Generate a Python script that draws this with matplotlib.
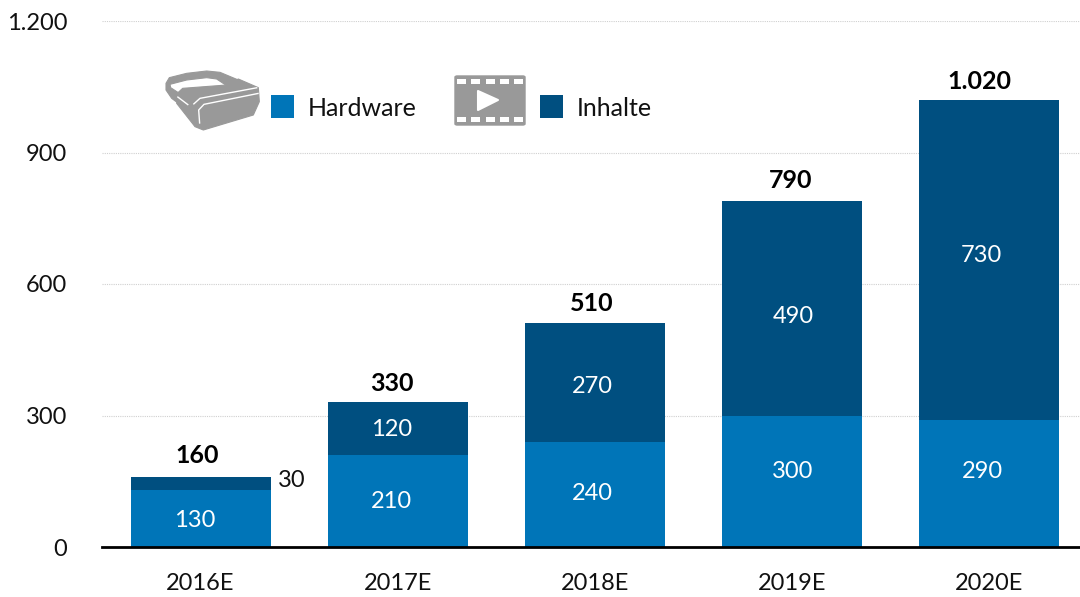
import matplotlib
matplotlib.use('Agg')
import matplotlib.pyplot as plt
from matplotlib.patches import Polygon, Rectangle, FancyBboxPatch

years = ['2016E', '2017E', '2018E', '2019E', '2020E']
hardware = [130, 210, 240, 300, 290]
inhalte = [30, 120, 270, 490, 730]
totals = [160, 330, 510, 790, 1020]
total_labels = ['160', '330', '510', '790', '1.020']
y_ticks = [0, 300, 600, 900, 1200]
y_labels = ['0', '300', '600', '900', '1.200']

W, H = 1080, 597
BLUE = '#0075b8'
DARK = '#004f80'
GREY = '#999999'
INK = '#111111'

# kleine Verschiebungen der Beschriftungen, in Pixeln
hw_shift = [(-6, -2), (-6, -1), (-3, 1), (0, 10), (-7, 12)]
in_shift = [(0, 0), (-6, -1), (-3, -4), (1, -8), (-8, 4)]
tot_shift = [(-3, 2), (-6, -1), (-3, 1), (-1, 1), (-10, -1)]

plt.rcParams['font.family'] = ['Lato', 'DejaVu Sans']

fig = plt.figure(figsize=(W / 100, H / 100), dpi=100)
ax = fig.add_axes([102 / W, (H - 547) / H, 978 / W, 526 / H])
ax.set_xlim(-0.5, 4.46)
ax.set_ylim(0, 1200)

ax.bar(range(5), hardware, width=0.71, color=BLUE, zorder=3)
ax.bar(range(5), inhalte, width=0.71, bottom=hardware, color=DARK, zorder=3)


def label(x, y, text, shift, **kw):
    # shift ist in Pixeln, Bild hat dpi 100
    ax.annotate(text, (x, y), xytext=(shift[0] * 0.72, shift[1] * 0.72), textcoords='offset points',
                ha='center', zorder=4, annotation_clip=False, **kw)


for i in range(5):
    label(i, hardware[i] / 2, str(hardware[i]), hw_shift[i], color='white', va='center', fontsize=17)
    if i > 0:
        label(i, hardware[i] + inhalte[i] / 2, str(inhalte[i]), in_shift[i], color='white', va='center', fontsize=17)
    label(i, totals[i] + 18, total_labels[i], tot_shift[i], color='black', fontweight='bold', va='bottom', fontsize=18)
ax.text(0.46, 152, str(inhalte[0]), color=INK, ha='center', va='center', fontsize=17)

# Achsen
for s in ['top', 'right', 'left']:
    ax.spines[s].set_visible(False)
ax.spines['bottom'].set_linewidth(2)
ax.spines['bottom'].set_color('black')
ax.spines['bottom'].set_zorder(5)
ax.grid(axis='y', color='#d0d0d0', linewidth=0.8, linestyle=(0, (1, 1)), zorder=0)
ax.set_yticks(y_ticks)
ax.set_yticklabels(y_labels, fontsize=17, color=INK)
ax.set_xticks(range(5))
ax.set_xticklabels(years, fontsize=17, color=INK)
ax.tick_params(axis='both', length=0)
ax.tick_params(axis='y', pad=25)
ax.tick_params(axis='x', pad=19)


def px(x, y):
    return (x / W, (H - y) / H)


def zoomed(points):
    return [px(160 + a / 3, 65 + b / 3) for a, b in points]


def add(patch):
    patch.set_transform(fig.transFigure)
    fig.add_artist(patch)


# Legende
for x0, col, name in [(271, BLUE, 'Hardware'), (540, DARK, 'Inhalte')]:
    add(Rectangle(px(x0, 118), 23 / W, 23 / H, color=col, lw=0))
    fig.text((x0 + 37) / W, (H - 108) / H, name, fontsize=18, color=INK, va='center', ha='left')

# VR-Brille
strap = [(18, 55), (28, 38), (80, 25), (140, 18), (180, 22), (235, 45), (200, 62), (170, 42), (140, 38),
         (80, 45), (30, 58), (32, 68), (58, 85), (55, 115), (35, 100), (18, 75)]
body = [(55, 82), (68, 70), (200, 60), (235, 42), (295, 68), (298, 110), (280, 150), (130, 195), (105, 185), (50, 115)]
add(Polygon(zoomed(strap), closed=True, fc=GREY, ec=GREY, lw=0.8, joinstyle='round'))
add(Polygon(zoomed(body), closed=True, fc=GREY, ec=GREY, lw=0.8, joinstyle='round'))
for line in ([(292, 68), (120, 100), (100, 118)],
             [(296, 85), (132, 118), (116, 135), (119, 176)],
             [(52, 95), (85, 120)]):
    add(Polygon(zoomed(line), closed=False, fill=False, ec='white', lw=1.0, joinstyle='round'))

# Filmstreifen
x0, y0 = px(455, 125)
add(FancyBboxPatch((x0, y0), 70 / W, 49 / H, boxstyle='round,pad=0,rounding_size=0.002', fc=GREY, ec=GREY, lw=1))
for k in range(5):
    hx = 457 + k * 14.3
    for hy in (84, 122):
        add(Rectangle(px(hx, hy), 9 / W, 5 / H, color='white', lw=0))
add(Polygon([px(478, 91), px(478, 110), px(498, 100)], closed=True, fc='white', ec='white', lw=1.5, joinstyle='round'))

fig.savefig('out.png', dpi=100)
